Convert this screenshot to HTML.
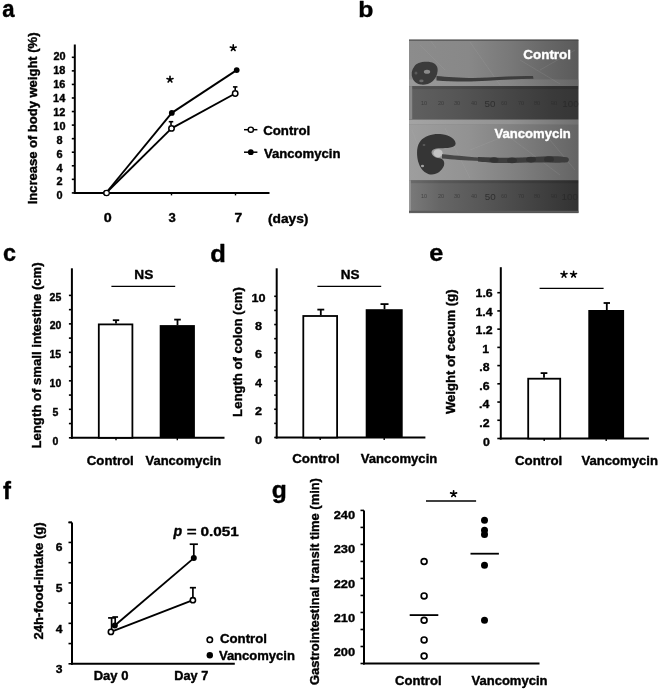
<!DOCTYPE html>
<html><head><meta charset="utf-8"><style>
html,body{margin:0;padding:0;background:#fff;overflow:hidden;}
svg{display:block;filter:grayscale(1) blur(0.3px);}
svg{font-family:"Liberation Sans",sans-serif;font-weight:bold;}
</style></head><body>
<svg width="658" height="689" viewBox="0 0 658 689">

<defs>
<clipPath id="pc"><rect x="409.0" y="39.4" width="169.60000000000002" height="173.9"/></clipPath>
<linearGradient id="gTop" x1="0" x2="1" y1="0" y2="0">
 <stop offset="0" stop-color="#8c8c8c"/><stop offset="0.35" stop-color="#888888"/>
 <stop offset="0.6" stop-color="#787878"/><stop offset="0.8" stop-color="#686868"/><stop offset="1" stop-color="#5a5a5a"/>
</linearGradient>
<linearGradient id="gR1" x1="0" x2="1" y1="0" y2="0">
 <stop offset="0" stop-color="#606060"/><stop offset="0.3" stop-color="#555555"/>
 <stop offset="0.6" stop-color="#464646"/><stop offset="0.85" stop-color="#3a3a3a"/><stop offset="1" stop-color="#353535"/>
</linearGradient>
<linearGradient id="gBand" x1="0" x2="1" y1="0" y2="0">
 <stop offset="0" stop-color="#a4a4a4"/><stop offset="0.6" stop-color="#929292"/><stop offset="1" stop-color="#707070"/>
</linearGradient>
<linearGradient id="gBot" x1="0" x2="1" y1="0" y2="0">
 <stop offset="0" stop-color="#9e9e9e"/><stop offset="0.35" stop-color="#929292"/>
 <stop offset="0.65" stop-color="#7e7e7e"/><stop offset="1" stop-color="#646464"/>
</linearGradient>
<linearGradient id="gR2" x1="0" x2="1" y1="0" y2="0">
 <stop offset="0" stop-color="#7a7a7a"/><stop offset="0.18" stop-color="#666666"/>
 <stop offset="0.45" stop-color="#565656"/><stop offset="0.75" stop-color="#424242"/><stop offset="1" stop-color="#323232"/>
</linearGradient>
<filter id="bl1" x="-20%" y="-20%" width="140%" height="140%"><feGaussianBlur stdDeviation="0.7"/></filter>
<filter id="bl2" x="-20%" y="-20%" width="140%" height="140%"><feGaussianBlur stdDeviation="0.5"/></filter>
</defs>
<g clip-path="url(#pc)">
<rect x="409.0" y="39.4" width="169.60000000000002" height="173.9" fill="#7a7a7a"/>
<rect x="409.0" y="39.4" width="169.60000000000002" height="46.699999999999996" fill="url(#gTop)"/>
<rect x="409.0" y="79.5" width="169.60000000000002" height="6.6" fill="url(#gBand)" opacity="0.55"/>
<rect x="409.0" y="86.0" width="169.60000000000002" height="33.7" fill="url(#gR1)"/>
<rect x="409.0" y="86.1" width="169.60000000000002" height="3" fill="#000" opacity="0.12"/>
<rect x="409.0" y="86.1" width="3.2" height="33.10000000000001" fill="#8a8a8a"/>
<rect x="409.0" y="119.7" width="169.60000000000002" height="4.8" fill="url(#gBand)"/>
<rect x="409.0" y="124.4" width="169.60000000000002" height="55.79999999999998" fill="url(#gBot)"/>
<rect x="409.0" y="180.2" width="169.60000000000002" height="33.10000000000002" fill="url(#gR2)"/>
<rect x="409.0" y="180.2" width="169.60000000000002" height="3" fill="#000" opacity="0.12"/>
<rect x="409.0" y="180.2" width="1.8" height="33.10000000000002" fill="#989898"/>
<rect x="409.0" y="210.8" width="169.60000000000002" height="2.0" fill="#5a5a5a"/>
<g stroke="#b8b8b8" stroke-width="0.8" opacity="0.18" fill="none">
 <path d="M420,45 L445,70"/><path d="M470,42 L500,85"/><path d="M520,60 L560,84"/><path d="M430,40 L436,48"/>
 <path d="M445,128 L470,178"/><path d="M500,130 L560,175"/><path d="M470,150 L520,130"/><path d="M412,130 L430,178"/>
 <path d="M540,70 L575,50"/><path d="M550,140 L575,170"/>
</g>
<g filter="url(#bl2)">
<text x="421" y="105.3" font-size="5.5" style="font-weight:normal" fill="#2a2a2a" opacity="0.6">10</text><text x="438" y="105.3" font-size="5.5" style="font-weight:normal" fill="#2a2a2a" opacity="0.6">20</text><text x="454" y="105.3" font-size="5.5" style="font-weight:normal" fill="#2a2a2a" opacity="0.6">30</text><text x="471" y="105.3" font-size="5.5" style="font-weight:normal" fill="#2a2a2a" opacity="0.6">40</text><text x="501" y="105.3" font-size="5.5" style="font-weight:normal" fill="#2a2a2a" opacity="0.6">60</text><text x="518" y="105.3" font-size="5.5" style="font-weight:normal" fill="#2a2a2a" opacity="0.6">70</text><text x="534" y="105.3" font-size="5.5" style="font-weight:normal" fill="#2a2a2a" opacity="0.6">80</text><text x="551" y="105.3" font-size="5.5" style="font-weight:normal" fill="#2a2a2a" opacity="0.6">90</text>
<text x="421" y="198.3" font-size="5.5" style="font-weight:normal" fill="#2a2a2a" opacity="0.6">10</text><text x="438" y="198.3" font-size="5.5" style="font-weight:normal" fill="#2a2a2a" opacity="0.6">20</text><text x="454" y="198.3" font-size="5.5" style="font-weight:normal" fill="#2a2a2a" opacity="0.6">30</text><text x="471" y="198.3" font-size="5.5" style="font-weight:normal" fill="#2a2a2a" opacity="0.6">40</text><text x="501" y="198.3" font-size="5.5" style="font-weight:normal" fill="#2a2a2a" opacity="0.6">60</text><text x="518" y="198.3" font-size="5.5" style="font-weight:normal" fill="#2a2a2a" opacity="0.6">70</text><text x="534" y="198.3" font-size="5.5" style="font-weight:normal" fill="#2a2a2a" opacity="0.6">80</text><text x="551" y="198.3" font-size="5.5" style="font-weight:normal" fill="#2a2a2a" opacity="0.6">90</text>
</g>
<g style="font-weight:normal" fill="#2a2a2a" font-size="9.8" opacity="0.85">
 <text x="484.6" y="106.8">50</text><text x="562.3" y="106.8">100</text>
 <text x="484.8" y="199.5">50</text><text x="561.5" y="199.5">100</text>
</g>
<g filter="url(#bl1)">
 <!-- control cecum -->
 <path d="M414,67 C416,63 421,61.6 427,61.7 C432,61.8 436.5,63.5 437.5,68 C438.2,73 436,78.5 432.3,81.5 C429,84 425,85 421,84.6 C416.5,84 413.5,81 412.5,78 C411,75 411.5,70 414,67 Z" fill="#3a3a3a"/>
 <ellipse cx="427" cy="71.8" rx="3.2" ry="2.0" fill="#8a8a8a"/>
 <ellipse cx="421.4" cy="80.9" rx="2.2" ry="1.3" fill="#6a6a6a"/>
 <ellipse cx="416" cy="73" rx="1.5" ry="1.5" fill="#5a5a5a"/>
 <!-- control colon -->
 <path d="M436.5,76 C450,77 468,79 488,77.6 C503,76.6 518,75.6 533,76 L533.5,78.8 C518,79 503,79.8 488,80.8 C468,82.2 450,81.5 436.5,80.5 Z" fill="#3e3e3e"/>
 <!-- vanco cecum C shape -->
 <path d="M455.6,143.8 C455.6,139 450,135.5 442,134.3 C434,133.3 425,135.5 420.5,141 C416.5,146 416.8,153 417.5,158.5 C418.5,165 422,171.8 428.8,174.2 C435.5,175.8 441.8,171.5 444,165.5 C445,161.5 443,158.8 439.5,158.3 C435.5,158 432,156 431.5,152.5 C431.8,149.6 435,148.4 440,148.3 C447,148.2 455.3,148 455.6,143.8 Z" fill="#343434"/>
 <ellipse cx="438" cy="153.2" rx="4.6" ry="4.0" fill="#c2c2c2"/>
 <ellipse cx="422.5" cy="166" rx="1.6" ry="1.2" fill="#a0a0a0"/>
 <ellipse cx="424" cy="145" rx="1.5" ry="0.8" fill="#6a6a6a"/>
 <!-- vanco colon -->
 <path d="M442,154.2 C452,155 465,156.5 480,157.5 L480,161 C465,160.5 452,159.5 442,158.5 Z" fill="#474747"/>
 <path d="M478,157 C490,157.5 500,158 512,157.8 C525,157.3 540,156.5 552,156.2 C558,156.1 563,156.5 567,157.3 C569.5,158.3 569.5,161.3 567,162.2 C560,163 550,162.5 540,162.5 C525,162.4 512,163.2 500,163 C490,162.8 484,162 478,161.5 Z" fill="#3c3c3c"/>
 <g fill="#333333"><ellipse cx="494" cy="160" rx="4.5" ry="2.8"/><ellipse cx="512" cy="160.3" rx="5" ry="2.9"/><ellipse cx="531" cy="159.6" rx="5" ry="2.9"/><ellipse cx="549" cy="159.2" rx="5" ry="2.9"/></g>
</g>
<rect x="409.0" y="39.4" width="169.60000000000002" height="1.2" fill="#444"/>
</g>

<text transform="translate(523.35,58.50) scale(1.0166,1)" font-size="13.2" fill="#fff" style="" stroke="#fff" stroke-width="0.393" stroke-linejoin="round">Control</text>
<text transform="translate(494.51,138.10) scale(0.9918,1)" font-size="13.2" fill="#fff" style="" stroke="#fff" stroke-width="0.403" stroke-linejoin="round">Vancomycin</text>
<text transform="translate(2.36,17.40) scale(0.9421,1)" font-size="23.5" fill="#000" style="" stroke="#000" stroke-width="0.425" stroke-linejoin="round">a</text>
<text transform="translate(358.26,17.40) scale(1.0974,1)" font-size="22.6" fill="#000" style="" stroke="#000" stroke-width="0.364" stroke-linejoin="round">b</text>
<text transform="translate(2.89,261.40) scale(0.9941,1)" font-size="23.5" fill="#000" style="" stroke="#000" stroke-width="0.402" stroke-linejoin="round">c</text>
<text transform="translate(210.35,261.70) scale(1.0892,1)" font-size="23.5" fill="#000" style="" stroke="#000" stroke-width="0.367" stroke-linejoin="round">d</text>
<text transform="translate(429.31,261.00) scale(1.0748,1)" font-size="23.5" fill="#000" style="" stroke="#000" stroke-width="0.372" stroke-linejoin="round">e</text>
<text transform="translate(2.89,498.70) scale(1.0170,1)" font-size="23.5" fill="#000" style="" stroke="#000" stroke-width="0.393" stroke-linejoin="round">f</text>
<text transform="translate(271.79,497.70) scale(1.0145,1)" font-size="24.3" fill="#000" style="" stroke="#000" stroke-width="0.394" stroke-linejoin="round">g</text>
<line x1="74.80" y1="44.50" x2="74.80" y2="193.90" stroke="#000" stroke-width="2" stroke-linecap="butt"/>
<line x1="73.80" y1="192.90" x2="269.50" y2="192.90" stroke="#000" stroke-width="2" stroke-linecap="butt"/>
<line x1="71.80" y1="192.90" x2="74.80" y2="192.90" stroke="#000" stroke-width="1.6" stroke-linecap="butt"/>
<text transform="translate(56.47,199.35) scale(1.0300,1)" font-size="10.6" fill="#000" style="" stroke="#000" stroke-width="0.388" stroke-linejoin="round">0</text>
<line x1="71.80" y1="179.34" x2="74.80" y2="179.34" stroke="#000" stroke-width="1.6" stroke-linecap="butt"/>
<text transform="translate(56.49,185.44) scale(1.0300,1)" font-size="10.6" fill="#000" style="" stroke="#000" stroke-width="0.388" stroke-linejoin="round">2</text>
<line x1="71.80" y1="165.78" x2="74.80" y2="165.78" stroke="#000" stroke-width="1.6" stroke-linecap="butt"/>
<text transform="translate(56.41,171.53) scale(1.0300,1)" font-size="10.6" fill="#000" style="" stroke="#000" stroke-width="0.388" stroke-linejoin="round">4</text>
<line x1="71.80" y1="152.22" x2="74.80" y2="152.22" stroke="#000" stroke-width="1.6" stroke-linecap="butt"/>
<text transform="translate(56.46,157.62) scale(1.0300,1)" font-size="10.6" fill="#000" style="" stroke="#000" stroke-width="0.388" stroke-linejoin="round">6</text>
<line x1="71.80" y1="138.66" x2="74.80" y2="138.66" stroke="#000" stroke-width="1.6" stroke-linecap="butt"/>
<text transform="translate(56.46,143.71) scale(1.0300,1)" font-size="10.6" fill="#000" style="" stroke="#000" stroke-width="0.388" stroke-linejoin="round">8</text>
<line x1="71.80" y1="125.10" x2="74.80" y2="125.10" stroke="#000" stroke-width="1.6" stroke-linecap="butt"/>
<text transform="translate(53.31,129.80) scale(1.0300,1)" font-size="10.6" fill="#000" style="" stroke="#000" stroke-width="0.388" stroke-linejoin="round">10</text>
<line x1="71.80" y1="111.54" x2="74.80" y2="111.54" stroke="#000" stroke-width="1.6" stroke-linecap="butt"/>
<text transform="translate(53.30,115.89) scale(1.0300,1)" font-size="10.6" fill="#000" style="" stroke="#000" stroke-width="0.388" stroke-linejoin="round">12</text>
<line x1="71.80" y1="97.98" x2="74.80" y2="97.98" stroke="#000" stroke-width="1.6" stroke-linecap="butt"/>
<text transform="translate(53.11,101.98) scale(1.0300,1)" font-size="10.6" fill="#000" style="" stroke="#000" stroke-width="0.388" stroke-linejoin="round">14</text>
<line x1="71.80" y1="84.42" x2="74.80" y2="84.42" stroke="#000" stroke-width="1.6" stroke-linecap="butt"/>
<text transform="translate(53.28,88.07) scale(1.0300,1)" font-size="10.6" fill="#000" style="" stroke="#000" stroke-width="0.388" stroke-linejoin="round">16</text>
<line x1="71.80" y1="70.86" x2="74.80" y2="70.86" stroke="#000" stroke-width="1.6" stroke-linecap="butt"/>
<text transform="translate(53.25,74.16) scale(1.0300,1)" font-size="10.6" fill="#000" style="" stroke="#000" stroke-width="0.388" stroke-linejoin="round">18</text>
<line x1="71.80" y1="57.30" x2="74.80" y2="57.30" stroke="#000" stroke-width="1.6" stroke-linecap="butt"/>
<text transform="translate(53.46,60.25) scale(1.0300,1)" font-size="10.6" fill="#000" style="" stroke="#000" stroke-width="0.388" stroke-linejoin="round">20</text>
<line x1="107.00" y1="192.90" x2="107.00" y2="195.40" stroke="#000" stroke-width="1.4" stroke-linecap="butt"/>
<line x1="171.50" y1="192.90" x2="171.50" y2="195.40" stroke="#000" stroke-width="1.4" stroke-linecap="butt"/>
<line x1="235.50" y1="192.90" x2="235.50" y2="195.40" stroke="#000" stroke-width="1.4" stroke-linecap="butt"/>
<text transform="translate(103.73,222.40) scale(1.1831,1)" font-size="12.1" fill="#000" style="" stroke="#000" stroke-width="0.338" stroke-linejoin="round">0</text>
<text transform="translate(168.60,222.40) scale(1.0809,1)" font-size="12.1" fill="#000" style="" stroke="#000" stroke-width="0.370" stroke-linejoin="round">3</text>
<text transform="translate(234.60,222.40) scale(1.1454,1)" font-size="12.1" fill="#000" style="" stroke="#000" stroke-width="0.349" stroke-linejoin="round">7</text>
<text transform="translate(267.91,222.50) scale(1.1202,1)" font-size="12.3" fill="#000" style="" stroke="#000" stroke-width="0.357" stroke-linejoin="round">(days)</text>
<line x1="106.00" y1="193.00" x2="171.80" y2="112.90" stroke="#000" stroke-width="1.9" stroke-linecap="butt"/>
<line x1="171.80" y1="112.90" x2="236.70" y2="70.10" stroke="#000" stroke-width="1.9" stroke-linecap="butt"/>
<line x1="106.00" y1="193.00" x2="171.50" y2="128.40" stroke="#000" stroke-width="1.9" stroke-linecap="butt"/>
<line x1="171.50" y1="128.40" x2="235.20" y2="93.50" stroke="#000" stroke-width="1.9" stroke-linecap="butt"/>
<line x1="171.00" y1="125.00" x2="171.00" y2="121.70" stroke="#000" stroke-width="1.6" stroke-linecap="butt"/>
<line x1="168.75" y1="121.70" x2="173.25" y2="121.70" stroke="#000" stroke-width="1.6" stroke-linecap="butt"/>
<line x1="235.20" y1="90.00" x2="235.20" y2="86.90" stroke="#000" stroke-width="1.6" stroke-linecap="butt"/>
<line x1="232.95" y1="86.90" x2="237.45" y2="86.90" stroke="#000" stroke-width="1.6" stroke-linecap="butt"/>
<circle cx="106" cy="193" r="2.9" fill="#000"/>
<circle cx="171.8" cy="112.9" r="2.9" fill="#000"/>
<circle cx="236.7" cy="70.1" r="2.9" fill="#000"/>
<circle cx="171.5" cy="128.4" r="2.7" fill="#fff" stroke="#000" stroke-width="1.5"/>
<circle cx="235.2" cy="93.5" r="2.7" fill="#fff" stroke="#000" stroke-width="1.5"/>
<circle cx="106.6" cy="193" r="2.7" fill="#fff" stroke="#000" stroke-width="1.2"/>
<path d="M170.00,79.45L170.00,76.30M170.00,79.45L167.00,78.48M170.00,79.45L168.15,82.01M170.00,79.45L171.85,82.01M170.00,79.45L173.00,78.48" stroke="#000" stroke-width="1.6" stroke-linecap="round" fill="none"/>
<circle cx="170.00" cy="79.45" r="1.04" fill="#000"/>
<path d="M233.25,48.00L233.25,44.90M233.25,48.00L230.30,47.04M233.25,48.00L231.43,50.51M233.25,48.00L235.07,50.51M233.25,48.00L236.20,47.04" stroke="#000" stroke-width="1.6" stroke-linecap="round" fill="none"/>
<circle cx="233.25" cy="48.00" r="1.04" fill="#000"/>
<line x1="244.00" y1="129.70" x2="257.40" y2="129.70" stroke="#000" stroke-width="1.5" stroke-linecap="butt"/>
<circle cx="250.8" cy="129.7" r="2.6" fill="#fff" stroke="#000" stroke-width="1.4"/>
<line x1="244.00" y1="152.20" x2="257.40" y2="152.20" stroke="#000" stroke-width="1.5" stroke-linecap="butt"/>
<circle cx="250.8" cy="152.2" r="2.9" fill="#000"/>
<text transform="translate(263.16,135.10) scale(1.1037,1)" font-size="12.0" fill="#000" style="" stroke="#000" stroke-width="0.362" stroke-linejoin="round">Control</text>
<text transform="translate(263.91,157.60) scale(1.0848,1)" font-size="12.1" fill="#000" style="" stroke="#000" stroke-width="0.369" stroke-linejoin="round">Vancomycin</text>
<text transform="translate(37.00,204.37) rotate(-90) scale(1.0163,1)" font-size="12.8" fill="#000" stroke="#000" stroke-width="0.394">Increase of body weight (%)</text>
<line x1="71.90" y1="268.30" x2="71.90" y2="438.80" stroke="#000" stroke-width="2" stroke-linecap="butt"/>
<line x1="70.90" y1="437.80" x2="224.50" y2="437.80" stroke="#000" stroke-width="2" stroke-linecap="butt"/>
<line x1="68.90" y1="437.80" x2="71.90" y2="437.80" stroke="#000" stroke-width="1.6" stroke-linecap="butt"/>
<text transform="translate(52.58,445.01) scale(1.0300,1)" font-size="10.2" fill="#000" style="" stroke="#000" stroke-width="0.388" stroke-linejoin="round">0</text>
<line x1="68.90" y1="423.56" x2="71.90" y2="423.56" stroke="#000" stroke-width="1.6" stroke-linecap="butt"/>
<line x1="68.90" y1="409.32" x2="71.90" y2="409.32" stroke="#000" stroke-width="1.6" stroke-linecap="butt"/>
<text transform="translate(52.56,416.11) scale(1.0300,1)" font-size="10.2" fill="#000" style="" stroke="#000" stroke-width="0.388" stroke-linejoin="round">5</text>
<line x1="68.90" y1="395.08" x2="71.90" y2="395.08" stroke="#000" stroke-width="1.6" stroke-linecap="butt"/>
<line x1="68.90" y1="380.84" x2="71.90" y2="380.84" stroke="#000" stroke-width="1.6" stroke-linecap="butt"/>
<text transform="translate(49.54,387.21) scale(1.0300,1)" font-size="10.2" fill="#000" style="" stroke="#000" stroke-width="0.388" stroke-linejoin="round">10</text>
<line x1="68.90" y1="366.60" x2="71.90" y2="366.60" stroke="#000" stroke-width="1.6" stroke-linecap="butt"/>
<line x1="68.90" y1="352.36" x2="71.90" y2="352.36" stroke="#000" stroke-width="1.6" stroke-linecap="butt"/>
<text transform="translate(49.47,358.31) scale(1.0300,1)" font-size="10.2" fill="#000" style="" stroke="#000" stroke-width="0.388" stroke-linejoin="round">15</text>
<line x1="68.90" y1="338.12" x2="71.90" y2="338.12" stroke="#000" stroke-width="1.6" stroke-linecap="butt"/>
<line x1="68.90" y1="323.88" x2="71.90" y2="323.88" stroke="#000" stroke-width="1.6" stroke-linecap="butt"/>
<text transform="translate(49.69,329.41) scale(1.0300,1)" font-size="10.2" fill="#000" style="" stroke="#000" stroke-width="0.388" stroke-linejoin="round">20</text>
<line x1="68.90" y1="309.64" x2="71.90" y2="309.64" stroke="#000" stroke-width="1.6" stroke-linecap="butt"/>
<line x1="68.90" y1="295.40" x2="71.90" y2="295.40" stroke="#000" stroke-width="1.6" stroke-linecap="butt"/>
<text transform="translate(49.62,300.51) scale(1.0300,1)" font-size="10.2" fill="#000" style="" stroke="#000" stroke-width="0.388" stroke-linejoin="round">25</text>
<rect x="98.80" y="324.40" width="33.60" height="113.40" fill="#fff" stroke="#000" stroke-width="1.8"/>
<line x1="116.00" y1="323.50" x2="116.00" y2="320.20" stroke="#000" stroke-width="1.8" stroke-linecap="butt"/>
<line x1="112.80" y1="320.20" x2="119.20" y2="320.20" stroke="#000" stroke-width="1.8" stroke-linecap="butt"/>
<rect x="159.70" y="325.10" width="35.20" height="112.70" fill="#000"/>
<line x1="177.50" y1="325.10" x2="177.50" y2="319.60" stroke="#000" stroke-width="1.8" stroke-linecap="butt"/>
<line x1="174.20" y1="319.60" x2="180.80" y2="319.60" stroke="#000" stroke-width="1.8" stroke-linecap="butt"/>
<line x1="116.00" y1="437.80" x2="116.00" y2="440.30" stroke="#000" stroke-width="1.4" stroke-linecap="butt"/>
<line x1="177.30" y1="437.80" x2="177.30" y2="440.30" stroke="#000" stroke-width="1.4" stroke-linecap="butt"/>
<text transform="translate(134.29,278.60) scale(0.9956,1)" font-size="13.7" fill="#000" style="" stroke="#000" stroke-width="0.402" stroke-linejoin="round">NS</text>
<line x1="111.40" y1="286.40" x2="175.20" y2="286.40" stroke="#000" stroke-width="1.4" stroke-linecap="butt"/>
<text transform="translate(86.76,465.10) scale(1.0768,1)" font-size="12.3" fill="#000" style="" stroke="#000" stroke-width="0.371" stroke-linejoin="round">Control</text>
<text transform="translate(145.51,465.10) scale(1.0573,1)" font-size="12.3" fill="#000" style="" stroke="#000" stroke-width="0.378" stroke-linejoin="round">Vancomycin</text>
<text transform="translate(40.80,448.48) rotate(-90) scale(1.0264,1)" font-size="12.8" fill="#000" stroke="#000" stroke-width="0.390">Length of small intestine (cm)</text>
<line x1="276.70" y1="268.30" x2="276.70" y2="438.50" stroke="#000" stroke-width="2" stroke-linecap="butt"/>
<line x1="275.70" y1="437.50" x2="425.40" y2="437.50" stroke="#000" stroke-width="2" stroke-linecap="butt"/>
<line x1="274.20" y1="437.50" x2="276.70" y2="437.50" stroke="#000" stroke-width="1.6" stroke-linecap="butt"/>
<text transform="translate(255.09,443.84) scale(1.1200,1)" font-size="11.3" fill="#000" style="" stroke="#000" stroke-width="0.357" stroke-linejoin="round">0</text>
<line x1="274.20" y1="423.38" x2="276.70" y2="423.38" stroke="#000" stroke-width="1.6" stroke-linecap="butt"/>
<line x1="274.20" y1="409.26" x2="276.70" y2="409.26" stroke="#000" stroke-width="1.6" stroke-linecap="butt"/>
<text transform="translate(255.11,415.39) scale(1.1200,1)" font-size="11.3" fill="#000" style="" stroke="#000" stroke-width="0.357" stroke-linejoin="round">2</text>
<line x1="274.20" y1="395.14" x2="276.70" y2="395.14" stroke="#000" stroke-width="1.6" stroke-linecap="butt"/>
<line x1="274.20" y1="381.02" x2="276.70" y2="381.02" stroke="#000" stroke-width="1.6" stroke-linecap="butt"/>
<text transform="translate(255.02,386.94) scale(1.1200,1)" font-size="11.3" fill="#000" style="" stroke="#000" stroke-width="0.357" stroke-linejoin="round">4</text>
<line x1="274.20" y1="366.90" x2="276.70" y2="366.90" stroke="#000" stroke-width="1.6" stroke-linecap="butt"/>
<line x1="274.20" y1="352.78" x2="276.70" y2="352.78" stroke="#000" stroke-width="1.6" stroke-linecap="butt"/>
<text transform="translate(255.08,358.49) scale(1.1200,1)" font-size="11.3" fill="#000" style="" stroke="#000" stroke-width="0.357" stroke-linejoin="round">6</text>
<line x1="274.20" y1="338.66" x2="276.70" y2="338.66" stroke="#000" stroke-width="1.6" stroke-linecap="butt"/>
<line x1="274.20" y1="324.54" x2="276.70" y2="324.54" stroke="#000" stroke-width="1.6" stroke-linecap="butt"/>
<text transform="translate(255.08,330.04) scale(1.1200,1)" font-size="11.3" fill="#000" style="" stroke="#000" stroke-width="0.357" stroke-linejoin="round">8</text>
<line x1="274.20" y1="310.42" x2="276.70" y2="310.42" stroke="#000" stroke-width="1.6" stroke-linecap="butt"/>
<line x1="274.20" y1="296.30" x2="276.70" y2="296.30" stroke="#000" stroke-width="1.6" stroke-linecap="butt"/>
<text transform="translate(251.42,301.59) scale(1.1200,1)" font-size="11.3" fill="#000" style="" stroke="#000" stroke-width="0.357" stroke-linejoin="round">10</text>
<rect x="303.30" y="316.00" width="33.80" height="121.50" fill="#fff" stroke="#000" stroke-width="1.8"/>
<line x1="320.80" y1="315.10" x2="320.80" y2="309.60" stroke="#000" stroke-width="1.8" stroke-linecap="butt"/>
<line x1="317.35" y1="309.60" x2="324.25" y2="309.60" stroke="#000" stroke-width="1.8" stroke-linecap="butt"/>
<rect x="365.70" y="309.20" width="37.00" height="128.30" fill="#000"/>
<line x1="384.50" y1="309.20" x2="384.50" y2="304.10" stroke="#000" stroke-width="1.8" stroke-linecap="butt"/>
<line x1="380.50" y1="304.10" x2="388.50" y2="304.10" stroke="#000" stroke-width="1.8" stroke-linecap="butt"/>
<line x1="320.20" y1="437.50" x2="320.20" y2="440.00" stroke="#000" stroke-width="1.4" stroke-linecap="butt"/>
<line x1="384.20" y1="437.50" x2="384.20" y2="440.00" stroke="#000" stroke-width="1.4" stroke-linecap="butt"/>
<text transform="translate(340.70,278.60) scale(0.9842,1)" font-size="13.7" fill="#000" style="" stroke="#000" stroke-width="0.406" stroke-linejoin="round">NS</text>
<line x1="317.40" y1="286.40" x2="381.20" y2="286.40" stroke="#000" stroke-width="1.4" stroke-linecap="butt"/>
<text transform="translate(292.25,462.90) scale(1.0927,1)" font-size="12.2" fill="#000" style="" stroke="#000" stroke-width="0.366" stroke-linejoin="round">Control</text>
<text transform="translate(360.81,462.90) scale(1.0745,1)" font-size="12.2" fill="#000" style="" stroke="#000" stroke-width="0.372" stroke-linejoin="round">Vancomycin</text>
<text transform="translate(242.00,416.88) rotate(-90) scale(1.0250,1)" font-size="12.8" fill="#000" stroke="#000" stroke-width="0.390">Length of colon (cm)</text>
<line x1="500.80" y1="267.20" x2="500.80" y2="439.50" stroke="#000" stroke-width="2" stroke-linecap="butt"/>
<line x1="499.80" y1="438.50" x2="648.90" y2="438.50" stroke="#000" stroke-width="2" stroke-linecap="butt"/>
<line x1="497.30" y1="438.50" x2="500.80" y2="438.50" stroke="#000" stroke-width="1.6" stroke-linecap="butt"/>
<text transform="translate(483.08,445.55) scale(1.1000,1)" font-size="11.2" fill="#000" style="" stroke="#000" stroke-width="0.364" stroke-linejoin="round">0</text>
<line x1="497.30" y1="420.27" x2="500.80" y2="420.27" stroke="#000" stroke-width="1.6" stroke-linecap="butt"/>
<text transform="translate(479.29,426.98) scale(1.1000,1)" font-size="11.2" fill="#000" style="" stroke="#000" stroke-width="0.364" stroke-linejoin="round">.2</text>
<line x1="497.30" y1="402.05" x2="500.80" y2="402.05" stroke="#000" stroke-width="1.6" stroke-linecap="butt"/>
<text transform="translate(479.07,408.40) scale(1.1000,1)" font-size="11.2" fill="#000" style="" stroke="#000" stroke-width="0.364" stroke-linejoin="round">.4</text>
<line x1="497.30" y1="383.82" x2="500.80" y2="383.82" stroke="#000" stroke-width="1.6" stroke-linecap="butt"/>
<text transform="translate(479.27,389.83) scale(1.1000,1)" font-size="11.2" fill="#000" style="" stroke="#000" stroke-width="0.364" stroke-linejoin="round">.6</text>
<line x1="497.30" y1="365.60" x2="500.80" y2="365.60" stroke="#000" stroke-width="1.6" stroke-linecap="butt"/>
<text transform="translate(479.23,371.25) scale(1.1000,1)" font-size="11.2" fill="#000" style="" stroke="#000" stroke-width="0.364" stroke-linejoin="round">.8</text>
<line x1="497.30" y1="347.38" x2="500.80" y2="347.38" stroke="#000" stroke-width="1.6" stroke-linecap="butt"/>
<text transform="translate(482.26,352.68) scale(1.1000,1)" font-size="11.2" fill="#000" style="" stroke="#000" stroke-width="0.364" stroke-linejoin="round">1</text>
<line x1="497.30" y1="329.15" x2="500.80" y2="329.15" stroke="#000" stroke-width="1.6" stroke-linecap="butt"/>
<text transform="translate(475.60,334.10) scale(1.1000,1)" font-size="11.2" fill="#000" style="" stroke="#000" stroke-width="0.364" stroke-linejoin="round">1.2</text>
<line x1="497.30" y1="310.92" x2="500.80" y2="310.92" stroke="#000" stroke-width="1.6" stroke-linecap="butt"/>
<text transform="translate(475.38,315.53) scale(1.1000,1)" font-size="11.2" fill="#000" style="" stroke="#000" stroke-width="0.364" stroke-linejoin="round">1.4</text>
<line x1="497.30" y1="292.70" x2="500.80" y2="292.70" stroke="#000" stroke-width="1.6" stroke-linecap="butt"/>
<text transform="translate(475.57,296.95) scale(1.1000,1)" font-size="11.2" fill="#000" style="" stroke="#000" stroke-width="0.364" stroke-linejoin="round">1.6</text>
<rect x="528.20" y="378.70" width="32.00" height="59.80" fill="#fff" stroke="#000" stroke-width="1.8"/>
<line x1="544.00" y1="377.80" x2="544.00" y2="373.10" stroke="#000" stroke-width="1.8" stroke-linecap="butt"/>
<line x1="540.65" y1="373.10" x2="547.35" y2="373.10" stroke="#000" stroke-width="1.8" stroke-linecap="butt"/>
<rect x="588.30" y="310.00" width="35.80" height="128.50" fill="#000"/>
<line x1="606.80" y1="310.00" x2="606.80" y2="303.00" stroke="#000" stroke-width="1.8" stroke-linecap="butt"/>
<line x1="603.60" y1="303.00" x2="610.00" y2="303.00" stroke="#000" stroke-width="1.8" stroke-linecap="butt"/>
<line x1="544.20" y1="438.50" x2="544.20" y2="441.00" stroke="#000" stroke-width="1.4" stroke-linecap="butt"/>
<line x1="606.20" y1="438.50" x2="606.20" y2="441.00" stroke="#000" stroke-width="1.4" stroke-linecap="butt"/>
<path d="M564.00,274.55L564.00,271.40M564.00,274.55L561.00,273.58M564.00,274.55L562.15,277.11M564.00,274.55L565.85,277.11M564.00,274.55L567.00,273.58" stroke="#000" stroke-width="1.6" stroke-linecap="round" fill="none"/>
<circle cx="564.00" cy="274.55" r="1.04" fill="#000"/>
<path d="M573.55,274.50L573.55,271.40M573.55,274.50L570.60,273.54M573.55,274.50L571.73,277.01M573.55,274.50L575.37,277.01M573.55,274.50L576.50,273.54" stroke="#000" stroke-width="1.6" stroke-linecap="round" fill="none"/>
<circle cx="573.55" cy="274.50" r="1.04" fill="#000"/>
<line x1="539.60" y1="288.40" x2="603.60" y2="288.40" stroke="#000" stroke-width="1.4" stroke-linecap="butt"/>
<text transform="translate(514.95,464.50) scale(1.0904,1)" font-size="12.2" fill="#000" style="" stroke="#000" stroke-width="0.367" stroke-linejoin="round">Control</text>
<text transform="translate(581.41,464.80) scale(1.0759,1)" font-size="12.2" fill="#000" style="" stroke="#000" stroke-width="0.372" stroke-linejoin="round">Vancomycin</text>
<text transform="translate(455.00,414.01) rotate(-90) scale(1.0212,1)" font-size="12.8" fill="#000" stroke="#000" stroke-width="0.392">Weight of cecum (g)</text>
<line x1="72.00" y1="522.60" x2="72.00" y2="664.80" stroke="#000" stroke-width="2" stroke-linecap="butt"/>
<line x1="71.00" y1="663.80" x2="234.80" y2="663.80" stroke="#000" stroke-width="2" stroke-linecap="butt"/>
<line x1="68.50" y1="663.80" x2="72.00" y2="663.80" stroke="#000" stroke-width="1.6" stroke-linecap="butt"/>
<text transform="translate(55.81,673.18) scale(1.1000,1)" font-size="11.0" fill="#000" style="" stroke="#000" stroke-width="0.364" stroke-linejoin="round">3</text>
<line x1="68.50" y1="643.57" x2="72.00" y2="643.57" stroke="#000" stroke-width="1.6" stroke-linecap="butt"/>
<line x1="68.50" y1="623.35" x2="72.00" y2="623.35" stroke="#000" stroke-width="1.6" stroke-linecap="butt"/>
<text transform="translate(55.68,632.58) scale(1.1000,1)" font-size="11.0" fill="#000" style="" stroke="#000" stroke-width="0.364" stroke-linejoin="round">4</text>
<line x1="68.50" y1="603.12" x2="72.00" y2="603.12" stroke="#000" stroke-width="1.6" stroke-linecap="butt"/>
<line x1="68.50" y1="582.90" x2="72.00" y2="582.90" stroke="#000" stroke-width="1.6" stroke-linecap="butt"/>
<text transform="translate(55.72,591.98) scale(1.1000,1)" font-size="11.0" fill="#000" style="" stroke="#000" stroke-width="0.364" stroke-linejoin="round">5</text>
<line x1="68.50" y1="562.67" x2="72.00" y2="562.67" stroke="#000" stroke-width="1.6" stroke-linecap="butt"/>
<line x1="68.50" y1="542.45" x2="72.00" y2="542.45" stroke="#000" stroke-width="1.6" stroke-linecap="butt"/>
<text transform="translate(55.73,551.38) scale(1.1000,1)" font-size="11.0" fill="#000" style="" stroke="#000" stroke-width="0.364" stroke-linejoin="round">6</text>
<line x1="68.50" y1="522.22" x2="72.00" y2="522.22" stroke="#000" stroke-width="1.6" stroke-linecap="butt"/>
<line x1="68.50" y1="522.60" x2="72.00" y2="522.60" stroke="#000" stroke-width="1.6" stroke-linecap="butt"/>
<line x1="114.80" y1="625.50" x2="193.80" y2="558.10" stroke="#000" stroke-width="1.9" stroke-linecap="butt"/>
<line x1="110.90" y1="631.90" x2="192.90" y2="600.20" stroke="#000" stroke-width="1.9" stroke-linecap="butt"/>
<line x1="111.60" y1="631.00" x2="111.60" y2="617.90" stroke="#000" stroke-width="1.7" stroke-linecap="butt"/>
<line x1="108.10" y1="617.90" x2="115.10" y2="617.90" stroke="#000" stroke-width="1.7" stroke-linecap="butt"/>
<line x1="115.20" y1="625.00" x2="115.20" y2="617.00" stroke="#000" stroke-width="1.7" stroke-linecap="butt"/>
<line x1="112.35" y1="617.00" x2="118.05" y2="617.00" stroke="#000" stroke-width="1.7" stroke-linecap="butt"/>
<line x1="193.80" y1="558.00" x2="193.80" y2="544.20" stroke="#000" stroke-width="1.7" stroke-linecap="butt"/>
<line x1="189.70" y1="544.20" x2="197.90" y2="544.20" stroke="#000" stroke-width="1.7" stroke-linecap="butt"/>
<line x1="192.90" y1="600.00" x2="192.90" y2="587.70" stroke="#000" stroke-width="1.7" stroke-linecap="butt"/>
<line x1="189.85" y1="587.70" x2="195.95" y2="587.70" stroke="#000" stroke-width="1.7" stroke-linecap="butt"/>
<circle cx="114.8" cy="625.5" r="3.0" fill="#000"/>
<circle cx="110.9" cy="631.9" r="2.6" fill="#fff" stroke="#000" stroke-width="1.6"/>
<circle cx="193.8" cy="558.1" r="3.0" fill="#000"/>
<circle cx="192.9" cy="600.2" r="2.6" fill="#fff" stroke="#000" stroke-width="1.6"/>
<text transform="translate(173.61,536.40) scale(0.9687,1)" font-size="14.6" fill="#000" style="font-style:italic;" stroke="#000" stroke-width="0.413" stroke-linejoin="round">p</text>
<text transform="translate(186.79,536.40) scale(1.2951,1)" font-size="13.1" fill="#000" style="" stroke="#000" stroke-width="0.309" stroke-linejoin="round">=</text>
<text transform="translate(200.39,536.40) scale(1.1730,1)" font-size="13.1" fill="#000" style="" stroke="#000" stroke-width="0.341" stroke-linejoin="round">0.051</text>
<circle cx="209.8" cy="639.8" r="2.7" fill="#fff" stroke="#000" stroke-width="1.6"/>
<circle cx="209.8" cy="655.2" r="3.2" fill="#000"/>
<text transform="translate(219.96,643.40) scale(1.1130,1)" font-size="11.9" fill="#000" style="" stroke="#000" stroke-width="0.359" stroke-linejoin="round">Control</text>
<text transform="translate(218.91,659.80) scale(1.0866,1)" font-size="12.0" fill="#000" style="" stroke="#000" stroke-width="0.368" stroke-linejoin="round">Vancomycin</text>
<text transform="translate(93.63,680.20) scale(1.0355,1)" font-size="12.6" fill="#000" style="" stroke="#000" stroke-width="0.386" stroke-linejoin="round">Day 0</text>
<text transform="translate(174.25,680.20) scale(1.0119,1)" font-size="12.6" fill="#000" style="" stroke="#000" stroke-width="0.395" stroke-linejoin="round">Day 7</text>
<text transform="translate(43.00,639.46) rotate(-90) scale(1.0165,1)" font-size="12.8" fill="#000" stroke="#000" stroke-width="0.393">24h-food-intake (g)</text>
<line x1="364.00" y1="510.40" x2="364.00" y2="664.60" stroke="#000" stroke-width="2" stroke-linecap="butt"/>
<line x1="363.00" y1="663.60" x2="539.50" y2="663.60" stroke="#000" stroke-width="2" stroke-linecap="butt"/>
<line x1="360.50" y1="663.51" x2="364.00" y2="663.51" stroke="#000" stroke-width="1.6" stroke-linecap="butt"/>
<line x1="360.50" y1="646.50" x2="364.00" y2="646.50" stroke="#000" stroke-width="1.6" stroke-linecap="butt"/>
<text transform="translate(333.71,655.78) scale(1.1700,1)" font-size="11.0" fill="#000" style="" stroke="#000" stroke-width="0.342" stroke-linejoin="round">200</text>
<line x1="360.50" y1="629.49" x2="364.00" y2="629.49" stroke="#000" stroke-width="1.6" stroke-linecap="butt"/>
<line x1="360.50" y1="612.48" x2="364.00" y2="612.48" stroke="#000" stroke-width="1.6" stroke-linecap="butt"/>
<text transform="translate(333.71,621.68) scale(1.1700,1)" font-size="11.0" fill="#000" style="" stroke="#000" stroke-width="0.342" stroke-linejoin="round">210</text>
<line x1="360.50" y1="595.46" x2="364.00" y2="595.46" stroke="#000" stroke-width="1.6" stroke-linecap="butt"/>
<line x1="360.50" y1="578.45" x2="364.00" y2="578.45" stroke="#000" stroke-width="1.6" stroke-linecap="butt"/>
<text transform="translate(333.71,587.58) scale(1.1700,1)" font-size="11.0" fill="#000" style="" stroke="#000" stroke-width="0.342" stroke-linejoin="round">220</text>
<line x1="360.50" y1="561.44" x2="364.00" y2="561.44" stroke="#000" stroke-width="1.6" stroke-linecap="butt"/>
<line x1="360.50" y1="544.42" x2="364.00" y2="544.42" stroke="#000" stroke-width="1.6" stroke-linecap="butt"/>
<text transform="translate(333.71,553.48) scale(1.1700,1)" font-size="11.0" fill="#000" style="" stroke="#000" stroke-width="0.342" stroke-linejoin="round">230</text>
<line x1="360.50" y1="527.41" x2="364.00" y2="527.41" stroke="#000" stroke-width="1.6" stroke-linecap="butt"/>
<line x1="360.50" y1="510.40" x2="364.00" y2="510.40" stroke="#000" stroke-width="1.6" stroke-linecap="butt"/>
<text transform="translate(333.71,519.38) scale(1.1700,1)" font-size="11.0" fill="#000" style="" stroke="#000" stroke-width="0.342" stroke-linejoin="round">240</text>
<circle cx="424.1" cy="561.5" r="2.9" fill="#fff" stroke="#000" stroke-width="1.7"/>
<circle cx="424.1" cy="595.9" r="2.9" fill="#fff" stroke="#000" stroke-width="1.7"/>
<circle cx="424.1" cy="620.2" r="2.9" fill="#fff" stroke="#000" stroke-width="1.7"/>
<circle cx="424.1" cy="639.9" r="2.9" fill="#fff" stroke="#000" stroke-width="1.7"/>
<circle cx="424.1" cy="656.1" r="2.9" fill="#fff" stroke="#000" stroke-width="1.7"/>
<line x1="409.70" y1="615.10" x2="438.30" y2="615.10" stroke="#000" stroke-width="1.8" stroke-linecap="butt"/>
<circle cx="484.5" cy="520.3" r="3.5" fill="#000"/>
<circle cx="484.5" cy="530.2" r="3.5" fill="#000"/>
<circle cx="484.5" cy="534.4" r="3.5" fill="#000"/>
<circle cx="484.5" cy="565.3" r="3.5" fill="#000"/>
<circle cx="484.5" cy="620.2" r="3.5" fill="#000"/>
<line x1="470.50" y1="553.70" x2="498.90" y2="553.70" stroke="#000" stroke-width="1.8" stroke-linecap="butt"/>
<path d="M453.60,493.85L453.60,490.70M453.60,493.85L450.60,492.88M453.60,493.85L451.75,496.41M453.60,493.85L455.45,496.41M453.60,493.85L456.60,492.88" stroke="#000" stroke-width="1.6" stroke-linecap="round" fill="none"/>
<circle cx="453.60" cy="493.85" r="1.04" fill="#000"/>
<line x1="426.00" y1="501.00" x2="476.10" y2="501.00" stroke="#000" stroke-width="1.4" stroke-linecap="butt"/>
<text transform="translate(395.06,685.10) scale(1.0737,1)" font-size="12.2" fill="#000" style="" stroke="#000" stroke-width="0.373" stroke-linejoin="round">Control</text>
<text transform="translate(471.51,685.10) scale(1.0688,1)" font-size="12.2" fill="#000" style="" stroke="#000" stroke-width="0.374" stroke-linejoin="round">Vancomycin</text>
<text transform="translate(318.70,685.03) rotate(-90) scale(1.0115,1)" font-size="12.8" fill="#000" stroke="#000" stroke-width="0.395">Gastrointestinal transit time (min)</text>
</svg>
</body></html>
